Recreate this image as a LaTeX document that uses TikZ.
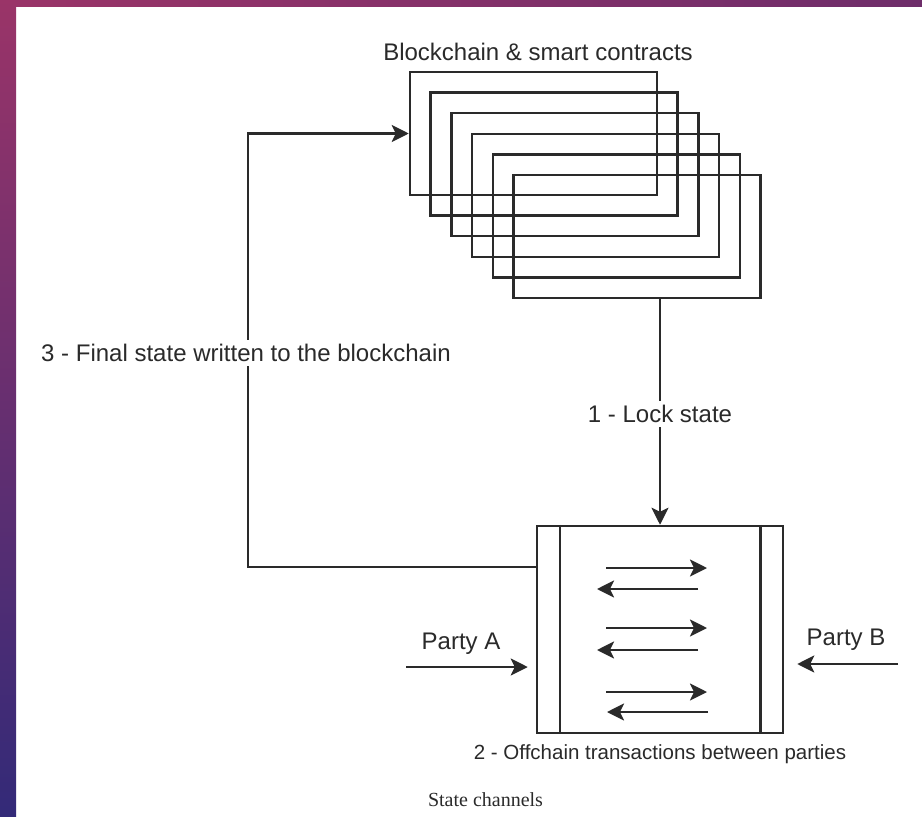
\documentclass[tikz,border=0pt]{standalone}
\usepackage{fontspec}
\setmainfont{Liberation Sans}
\newfontfamily\capfont{Liberation Serif}
\usetikzlibrary{arrows.meta,positioning,calc}
\definecolor{ink}{HTML}{2A2A2A}
\definecolor{plumA}{HTML}{9A3468}
\definecolor{plumB}{HTML}{6E2D6A}
\definecolor{plumM}{HTML}{70307A}
\definecolor{plumC}{HTML}{332A78}
\begin{document}
\begin{tikzpicture}[x=1pt,y=-1pt,
  bcbox/.style={draw=ink,line width=2.5pt,minimum width=247pt,minimum height=123pt,inner sep=0pt},
  chanbox/.style={draw=ink,line width=2.5pt,minimum width=246pt,minimum height=207pt,inner sep=0pt},
  flow/.style={draw=ink,line width=2.5pt,-{Stealth[length=17pt,width=17pt,inset=4pt]}},
  lbl/.style={text=ink,font=\fontsize{24}{28}\selectfont,inner sep=2pt},
  onlinelbl/.style={lbl,fill=white,inner sep=4pt}]
  % Rahmen
  \useasboundingbox (0,0) rectangle (922,817);
  \fill[white] (0,0) rectangle (922,817);
  \shade[left color=plumA,right color=plumB] (0,0) rectangle (922,6);
  \shade[top color=plumA,middle color=plumM,bottom color=plumC] (0,0) rectangle (16,817);
  % Blockchain
  \foreach \i in {0,...,5}
    \node[bcbox] (bc\i) at ({533.5+20.7*\i},{133.5+20.6*\i}) {};
  \node[lbl] (bctitle) at (538,52) {Blockchain \& smart contracts};
  % Kanal
  \node[chanbox] (chan) at (660,629.5) {};
  \draw[ink,line width=2.5pt] ($(chan.north west)+(24,0)$) -- ($(chan.south west)+(24,0)$);
  \draw[ink,line width=2.5pt] ($(chan.north east)+(-24,0)$) -- ($(chan.south east)+(-24,0)$);
  \node[lbl,font=\fontsize{20.5}{24}\selectfont,below=8pt of chan] (chanlbl)
    {2 - Offchain transactions between parties};
  % Transaktionen
  \foreach \y in {568,628,692}
    \draw[flow] (606,\y) -- (707,\y);
  \foreach \y in {589,650}
    \draw[flow] (698,\y) -- (597,\y);
  \draw[flow] (708,712) -- (607,712);
  % Sperren
  \draw[flow] (bc5.south -| chan.north) -- (chan.north);
  \node[onlinelbl] (lock) at (660,414) {1 - Lock state};
  % Abschluss
  \coordinate (out) at (chan.west |- 0,567);
  \coordinate (corner) at (248,133.5);
  \draw[flow] (out) -| (corner) -- (bc0.west);
  \node[onlinelbl] (final) at (246,353) {3 - Final state written to the blockchain};
  % Parteien
  \coordinate (pa) at (406,667);
  \coordinate (pb) at (898,664);
  \draw[flow] (pa) -- ($(chan.west |- pa)+(-8,0)$);
  \draw[flow] (pb) -- ($(chan.east |- pb)+(13,0)$);
  \node[lbl] (partyA) at (461,644) {Party A};
  \node[lbl] (partyB) at (846,640) {Party B};
  % Bildunterschrift
  \node[text=ink,font=\capfont\fontsize{20}{24}\selectfont] (cap) at (485.5,800) {State channels};
\end{tikzpicture}
\end{document}
